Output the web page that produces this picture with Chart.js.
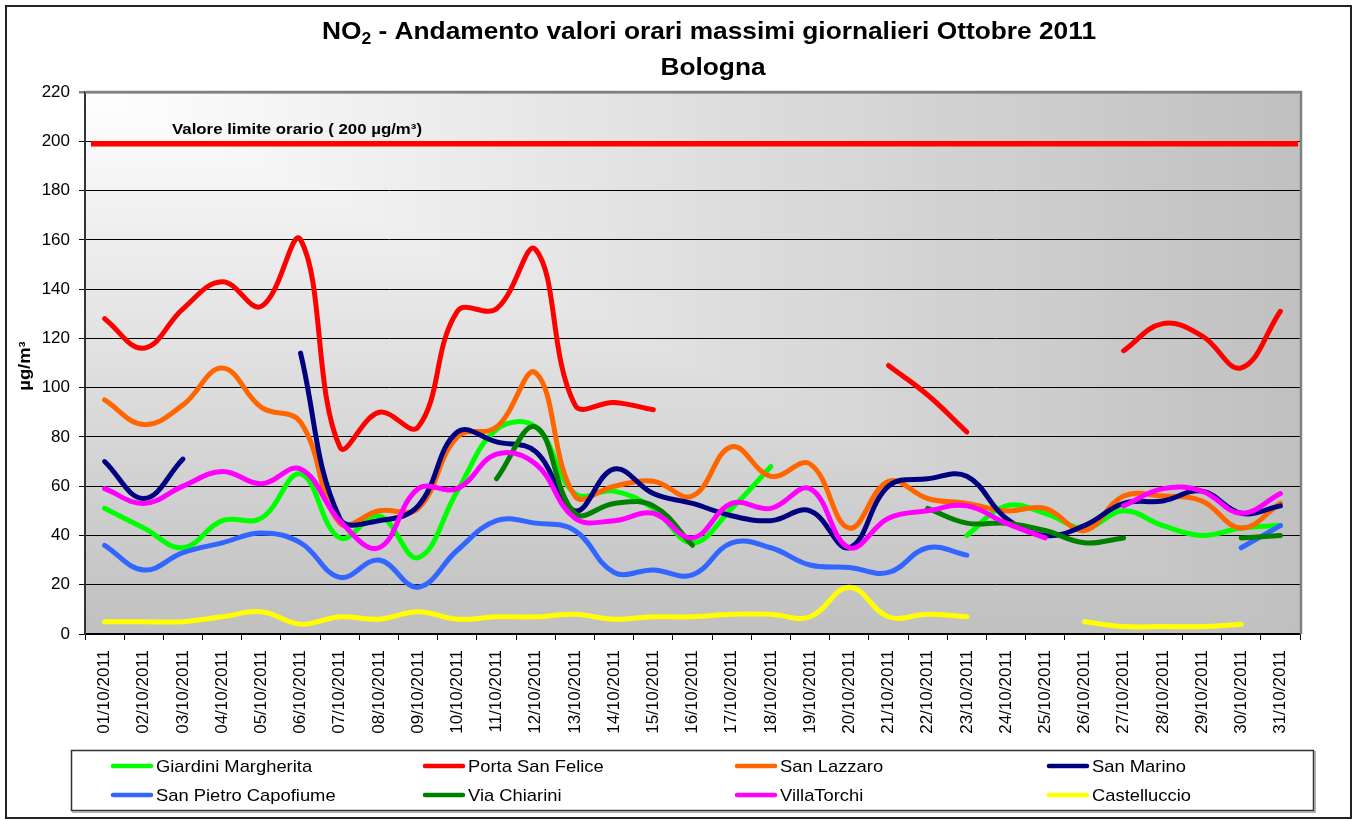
<!DOCTYPE html>
<html>
<head>
<meta charset="utf-8">
<script src="https://cdn.jsdelivr.net/npm/chart.js@4.4.0/dist/chart.umd.min.js"></script>
<style>
    html, body { margin: 0; padding: 0; background: #fff; }
    #wrap { width: 1356px; height: 821px; }
</style>
</head>
<body>
<div id="wrap"><canvas id="chart" width="1356" height="821"></canvas></div>
<script>
// giorni di ottobre 2011
const days = [
    '01/10/2011', '02/10/2011', '03/10/2011', '04/10/2011', '05/10/2011', '06/10/2011',
    '07/10/2011', '08/10/2011', '09/10/2011', '10/10/2011', '11/10/2011', '12/10/2011',
    '13/10/2011', '14/10/2011', '15/10/2011', '16/10/2011', '17/10/2011', '18/10/2011',
    '19/10/2011', '20/10/2011', '21/10/2011', '22/10/2011', '23/10/2011', '24/10/2011',
    '25/10/2011', '26/10/2011', '27/10/2011', '28/10/2011', '29/10/2011', '30/10/2011',
    '31/10/2011'
];

// valori orari massimi giornalieri (µg/m³), null = dato mancante
const giardiniMargherita = [51, 43, 35, 46, 47, 65, 39, 48, 31, 58, 83, 84, 57, 58, 51, 37, 51, 68, null, null, null, null, 40, 52, 49, 43, 50, 44, 40, 43, 44];
const portaSanFelice = [128, 116, 132, 143, 133, 160, 76, 90, 84, 131, 132, 156, 93, 94, 91, null, null, null, null, null, 109, 97, 82, null, null, null, 115, 126, 121, 108, 131];
const sanLazzaro = [95, 85, 93, 108, 92, 86, 45, 50, 51, 80, 84, 106, 56, 60, 62, 56, 76, 64, 69, 43, 62, 55, 53, 50, 51, 42, 56, 56, 54, 43, 53];
const sanMarino = [70, 55, 71, null, null, 114, 47, 46, 52, 82, 78, 74, 50, 67, 57, 53, 48, 46, 50, 35, 60, 63, 64, 47, 40, 44, 53, 54, 58, 49, 52];
const sanPietroCapofiume = [36, 26, 33, 37, 41, 37, 23, 30, 19, 34, 46, 45, 42, 25, 26, 24, 37, 35, 28, 27, 25, 35, 32, null, null, null, null, null, null, 35, 44];
const viaChiarini = [null, null, null, null, null, null, null, null, null, null, 63, 84, 49, 53, 52, 36, null, null, null, null, null, 51, 45, 45, 42, 37, 39, null, null, 39, 40];
const villaTorchi = [59, 53, 60, 66, 61, 67, 46, 35, 59, 59, 73, 69, 47, 46, 49, 39, 53, 51, 59, 35, 47, 50, 52, 45, 39, null, 52, 59, 58, 49, 57];
const castelluccio = [5, 5, 5, 7, 9, 4, 7, 6, 9, 6, 7, 7, 8, 6, 7, 7, 8, 8, 7, 19, 7, 8, 7, null, null, 5, 3, 3, 3, 4, null];

const stationNames = ['Giardini Margherita', 'Porta San Felice', 'San Lazzaro', 'San Marino',
    'San Pietro Capofiume', 'Via Chiarini', 'VillaTorchi', 'Castelluccio'];
const stationValues = [giardiniMargherita, portaSanFelice, sanLazzaro, sanMarino,
    sanPietroCapofiume, viaChiarini, villaTorchi, castelluccio];
const stationColors = ['#00ff00', '#ff0000', '#ff6600', '#000080',
    '#3366ff', '#008000', '#ff00ff', '#ffff00'];

const yTicks = [0, 20, 40, 60, 80, 100, 120, 140, 160, 180, 200, 220];
const limitValue = 199;
const limitLabel = 'Valore limite orario ( 200 µg/m³)';

const FONT = '"Liberation Sans", Arial, sans-serif';

// testo allargato orizzontalmente (come nel grafico Excel)
function wideText(ctx, text, x, y, sx) {
    ctx.save();
    ctx.translate(x, y);
    ctx.scale(sx, 1);
    ctx.fillText(text, 0, 0);
    ctx.restore();
}

// sfondo: bianco + gradiente dall'angolo in alto a sinistra
const backgroundPlugin = {
    id: 'background',
    beforeDraw(chart) {
        const ctx = chart.ctx;
        const a = chart.chartArea;
        ctx.save();
        ctx.fillStyle = '#fff';
        ctx.fillRect(0, 0, chart.width, chart.height);
        const w = a.right - a.left;
        const h = a.bottom - a.top;
        const steps = 120;
        for (let i = 0; i <= steps; i++) {
            const t = i / steps;
            const c = Math.round(192 + 63 * t);
            ctx.fillStyle = 'rgb(' + c + ',' + c + ',' + c + ')';
            ctx.fillRect(a.left, a.top, Math.ceil(w * (1 - t)), Math.ceil(h * (1 - t)));
        }
        ctx.restore();
    },
    beforeDatasetsDraw(chart) {
        const ctx = chart.ctx;
        const a = chart.chartArea;
        const y = chart.scales.y.getPixelForValue(limitValue);
        ctx.save();
        // bordo grigio sopra e a destra
        ctx.strokeStyle = '#808080';
        ctx.lineWidth = 2.5;
        ctx.beginPath();
        ctx.moveTo(a.left, a.top);
        ctx.lineTo(a.right + 1, a.top);
        ctx.lineTo(a.right + 1, a.bottom);
        ctx.stroke();
        // linea del valore limite
        ctx.strokeStyle = '#ff0000';
        ctx.lineWidth = 5.5;
        ctx.beginPath();
        ctx.moveTo(a.left + 6, y);
        ctx.lineTo(a.right - 2, y);
        ctx.stroke();
        ctx.fillStyle = '#000';
        ctx.font = 'bold 15px ' + FONT;
        ctx.textBaseline = 'alphabetic';
        const lw = ctx.measureText(limitLabel).width;
        wideText(ctx, limitLabel, 172, 134, 250 / lw);
        ctx.restore();
    },
    afterDraw(chart) {
        const ctx = chart.ctx;
        ctx.save();

        // titolo
        const bigFont = 'bold 24px ' + FONT;
        const subFont = 'bold 16px ' + FONT;
        const rest = ' - Andamento valori orari massimi giornalieri Ottobre 2011';
        ctx.font = bigFont;
        const wNO = ctx.measureText('NO').width;
        const wRest = ctx.measureText(rest).width;
        const wBol = ctx.measureText('Bologna').width;
        ctx.font = subFont;
        const w2 = ctx.measureText('2').width;
        const total = wNO + w2 + wRest;
        const sx = 774 / total;
        ctx.fillStyle = '#000';
        ctx.textBaseline = 'alphabetic';
        ctx.textAlign = 'left';
        ctx.save();
        ctx.translate(709 - 774 / 2, 39);
        ctx.scale(sx, 1);
        ctx.font = bigFont;
        ctx.fillText('NO', 0, 0);
        ctx.font = subFont;
        ctx.fillText('2', wNO, 5);
        ctx.font = bigFont;
        ctx.fillText(rest, wNO + w2, 0);
        ctx.restore();
        ctx.font = bigFont;
        wideText(ctx, 'Bologna', 713 - wBol * sx / 2, 75, sx);

        // titolo asse y
        ctx.save();
        ctx.translate(26, 366);
        ctx.rotate(-Math.PI / 2);
        ctx.font = 'bold 16px ' + FONT;
        ctx.textAlign = 'center';
        ctx.textBaseline = 'middle';
        ctx.scale(1.15, 1);
        ctx.fillText('µg/m³', 0, 0);
        ctx.restore();

        // legenda
        ctx.strokeStyle = '#333';
        ctx.lineWidth = 1.5;
        ctx.strokeRect(71.5, 750.5, 1242, 60);
        ctx.strokeStyle = '#999';
        ctx.beginPath();
        ctx.moveTo(72, 812);
        ctx.lineTo(1315, 812);
        ctx.lineTo(1315, 751);
        ctx.stroke();
        ctx.font = '17px ' + FONT;
        ctx.textAlign = 'left';
        ctx.textBaseline = 'middle';
        chart.data.datasets.forEach((ds, i) => {
            const col = i % 4;
            const row = Math.floor(i / 4);
            const lx = 113 + col * 312;
            const ly = 766 + row * 29;
            ctx.strokeStyle = ds.borderColor;
            ctx.lineWidth = 4.5;
            ctx.lineCap = 'round';
            ctx.beginPath();
            ctx.moveTo(lx, ly);
            ctx.lineTo(lx + 38, ly);
            ctx.stroke();
            ctx.fillStyle = '#000';
            wideText(ctx, ds.label, lx + 43, ly + 1, 1.08);
        });

        // cornice esterna
        ctx.strokeStyle = '#222';
        ctx.lineWidth = 2;
        ctx.strokeRect(6, 6, 1345, 812);
        ctx.restore();
    }
};

const datasets = stationNames.map((name, i) => ({
    label: name,
    data: stationValues[i],
    borderColor: stationColors[i],
    backgroundColor: stationColors[i],
    borderWidth: 5,
    borderCapStyle: 'round',
    borderJoinStyle: 'round',
    pointRadius: 0,
    pointHoverRadius: 0,
    tension: 0.4,
    spanGaps: false,
    fill: false,
    order: stationNames.length - i
}));

new Chart(document.getElementById('chart'), {
    type: 'line',
    data: { labels: days, datasets: datasets },
    options: {
        responsive: false,
        animation: false,
        devicePixelRatio: 1,
        layout: { padding: { top: 92, right: 56, bottom: 76, left: 0 } },
        plugins: {
            legend: { display: false },
            title: { display: false },
            tooltip: { enabled: false }
        },
        scales: {
            x: {
                type: 'category',
                offset: true,
                grid: {
                    offset: true,
                    drawOnChartArea: false,
                    drawTicks: true,
                    tickLength: 6,
                    color: '#000'
                },
                border: { display: true, color: '#000', width: 1.5 },
                ticks: {
                    autoSkip: false,
                    minRotation: 90,
                    maxRotation: 90,
                    padding: 10,
                    color: '#000',
                    font: { family: FONT, size: 17 }
                },
                afterFit(scale) { scale.height = 111; }
            },
            y: {
                min: 0,
                max: 220,
                afterBuildTicks(scale) { scale.ticks = yTicks.map(v => ({ value: v })); },
                grid: {
                    color: ctx => (ctx.tick && ctx.tick.value === 220) ? '#808080' : '#000',
                    lineWidth: ctx => (ctx.tick && ctx.tick.value === 220) ? 2.5 : 1,
                    tickLength: 6,
                    drawTicks: true
                },
                border: { display: true, color: '#333', width: 2 },
                ticks: {
                    padding: 9,
                    color: '#000',
                    font: { family: FONT, size: 17 }
                },
                afterFit(scale) { scale.width = 85; }
            }
        }
    },
    plugins: [backgroundPlugin]
});
</script>
</body>
</html>
